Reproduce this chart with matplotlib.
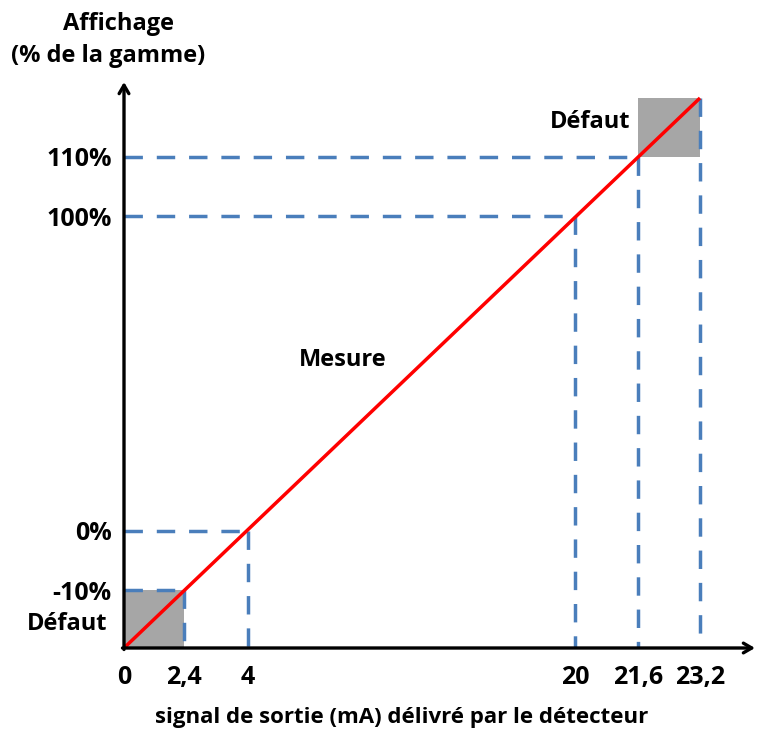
import numpy as np
import matplotlib
matplotlib.use('Agg')
import matplotlib.pyplot as plt

# Data (schematic: mA -> % of range)
x_ticks = [0, 2.4, 4, 20, 21.6, 23.2]
x_labels = ['0', '2,4', '4', '20', '21,6', '23,2']
y_ticks = [-10, 0, 100, 110]
y_labels = ['-10%', '0%', '100%', '110%']

guide_mA = [2.4, 4, 20, 21.6]        # dashed guides
guide_pct = [-10, 0, 100, 110]

line_mA = [0, 23.2]                  # measurement line
line_pct = [-25, 120]

fault_low = (0, 2.4, -25, -10)       # x0, x1, y0, y1
fault_high = (21.6, 23.2, 110, 120)

# schematic (non-linear) axis layout, in pixels
x_pts = [0, 2.4, 4, 20, 21.6, 23.2, 25.3]
x_px = [124, 184, 248, 575, 638, 700, 757]
y_pts = [-25, -10, 0, 100, 110, 120, 137]
y_px = [86, 144, 203, 518, 577, 636, 659]

W, H = 757, 734
plt.rcParams['font.family'] = ['Open Sans', 'DejaVu Sans']
plt.rcParams['font.weight'] = 'bold'
FS = 17
FS_TICK = 18

fig = plt.figure(figsize=(W / 100, H / 100), dpi=100)
ax = fig.add_axes([x_px[0] / W, y_px[0] / H,
                   (x_px[-1] - x_px[0]) / W, (y_px[-1] - y_px[0]) / H])
ax.set_xscale('function', functions=(lambda v: np.interp(v, x_pts, x_px),
                                      lambda p: np.interp(p, x_px, x_pts)))
ax.set_yscale('function', functions=(lambda v: np.interp(v, y_pts, y_px),
                                      lambda p: np.interp(p, y_px, y_pts)))
ax.set_xlim(x_pts[0], x_pts[-1])
ax.set_ylim(y_pts[0], y_pts[-1])
for s in ax.spines.values():
    s.set_visible(False)

grey = '#a6a6a6'
blue = '#4a7ebb'
for box in (fault_low, fault_high):
    ax.fill_between([box[0], box[1]], box[2], box[3], color=grey, lw=0, zorder=1)

dash = dict(color=blue, lw=2.5, dashes=(5.3, 4), zorder=2, clip_on=False)
for xm, yp in zip(guide_mA, guide_pct):
    ax.plot([0, xm], [yp, yp], **dash)
    ax.plot([xm, xm], [yp, y_pts[0]], **dash)
ax.plot([fault_high[1]] * 2, [fault_high[3], y_pts[0]], **dash)

ax.plot(line_mA, line_pct, color='red', lw=2.5, zorder=3, solid_capstyle='butt')

# axes with arrows
arr = dict(arrowstyle='->,head_length=0.6,head_width=0.35', lw=2.4, color='black',
           shrinkA=0, shrinkB=0)
ax.annotate('', xy=(1 - 2 / 633, 0), xytext=(-1.5 / 633, 0), xycoords='axes fraction',
            arrowprops=arr, annotation_clip=False, zorder=4)
ax.annotate('', xy=(0, 566 / 573), xytext=(0, -1.5 / 573), xycoords='axes fraction',
            arrowprops=arr, annotation_clip=False, zorder=4)

ax.set_xticks(x_ticks, x_labels, fontsize=FS_TICK, fontweight='bold')
ax.set_yticks(y_ticks, y_labels, fontsize=FS_TICK, fontweight='bold')
ax.tick_params(axis='x', length=0, pad=12)
ax.tick_params(axis='y', length=0, pad=9)
ax.minorticks_off()

def ftext(x, y, s, size=FS):
    fig.text(x / W, 1 - y / H, s, ha='center', va='center', fontsize=size,
             fontweight='bold')

ftext(118, 24, 'Affichage')
ftext(108, 56, '(% de la gamme)')
ftext(590, 122, 'Défaut')
ftext(67, 624, 'Défaut')
ftext(343, 360, 'Mesure')
ftext(402, 718, 'signal de sortie (mA) délivré par le détecteur', size=16)

fig.savefig('out.png', dpi=100)
